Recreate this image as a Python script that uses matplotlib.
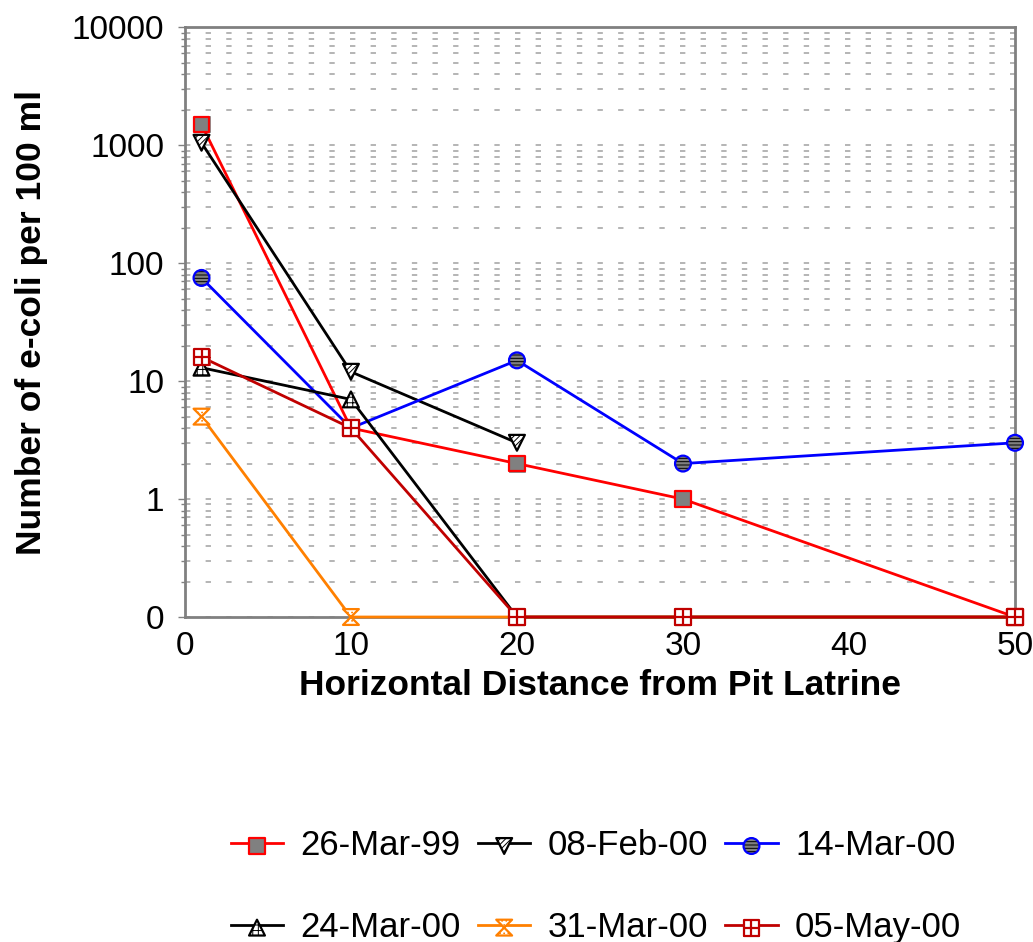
import numpy as np
import matplotlib.pyplot as plt
from matplotlib.path import Path
from matplotlib.ticker import FixedLocator, FixedFormatter, LogLocator, NullFormatter

plt.rcParams['font.family'] = ['Liberation Sans', 'DejaVu Sans']
plt.rcParams['hatch.linewidth'] = 0.7

# distance from pit latrine (m)
dist = [1, 10, 20, 30, 50]

# e-coli counts per 100 ml (None = not sampled)
mar99 = [1500, 4, 2, 1, 0]
feb00 = [1050, 12, 3, None, None]
mar14 = [75, 4, 15, 2, 3]
mar24 = [13, 7, 0, 0, 0]
mar31 = [5, 0, 0, 0, 0]
may05 = [16, 4, 0, 0, 0]

labels = ['26-Mar-99', '08-Feb-00', '14-Mar-00', '24-Mar-00', '31-Mar-00', '05-May-00']
series = [mar99, feb00, mar14, mar24, mar31, may05]

y_ticks = [0.1, 1, 10, 100, 1000, 10000]
y_labels = ['0', '1', '10', '100', '1000', '10000']

hourglass = Path([(-1, 1), (1, 1), (-1, -1), (1, -1), (-1, 1)],
                 [Path.MOVETO, Path.LINETO, Path.LINETO, Path.LINETO, Path.CLOSEPOLY])
# square split in four
crossbox = Path([(-1, -1), (1, -1), (1, 1), (-1, 1), (-1, -1),
                 (0, -1), (0, 1), (-1, 0), (1, 0)],
                [Path.MOVETO, Path.LINETO, Path.LINETO, Path.LINETO, Path.CLOSEPOLY,
                 Path.MOVETO, Path.LINETO, Path.MOVETO, Path.LINETO])

# (line colour, marker, face, hatch colour, hatch, outline colour)
styles = [
    ('#ff0000', 's', '#808080', '#808080', None, '#ff0000'),
    ('#000000', 'v', 'white', '#000000', '/' * 6, '#000000'),
    ('#0000ff', 'o', '#808080', '#000000', '-' * 5, '#0000ff'),
    ('#000000', '^', 'white', '#000000', '+' * 3, '#000000'),
    ('#ff8000', hourglass, 'white', '#ff8000', '.' * 4, '#ff8000'),
    ('#c00000', crossbox, 'white', '#c00000', None, '#c00000'),
]

fig = plt.figure(figsize=(10.33, 9.42), dpi=100)
ax = fig.add_axes([0.179, 0.345, 0.8036, 0.626])

handles = []
for vals, (lc, mk, fc, hc, hatch, oc) in zip(series, styles):
    x = np.array([d for d, v in zip(dist, vals) if v is not None], dtype=float)
    y = np.array([v for v in vals if v is not None], dtype=float)
    y = np.where(y <= 0, 0.1, y)  # zero plotted on the bottom line
    ln, = ax.plot(x, y, color=lc, lw=2, zorder=3, clip_on=False)
    sc1 = ax.scatter(x, y, s=130, marker=mk, facecolor=fc, edgecolor=hc,
                     linewidths=0.5, hatch=hatch, zorder=4, clip_on=False)
    sc2 = ax.scatter(x, y, s=130, marker=mk, facecolor='none', edgecolor=oc,
                     linewidths=1.6, zorder=4, clip_on=False)
    handles.append((ln, sc1, sc2))

ax.set_yscale('log')
ax.set_ylim(0.1, 10000)
ax.set_xlim(0, 50)
ax.yaxis.set_major_locator(FixedLocator(y_ticks))
ax.yaxis.set_major_formatter(FixedFormatter(y_labels))
ax.yaxis.set_minor_locator(LogLocator(base=10, subs=np.arange(2, 10), numticks=20))
ax.yaxis.set_minor_formatter(NullFormatter())
ax.set_xticks([0, 10, 20, 30, 40, 50])

ax.grid(True, axis='y', which='both', color='#a0a0a0', lw=1.1,
        linestyle=(0, (3.5, 10)), zorder=0)
ax.set_axisbelow(True)

for sp in ax.spines.values():
    sp.set_color('#808080')
    sp.set_linewidth(2)

ax.tick_params(axis='y', which='major', length=5, width=1, color='#808080',
               labelsize=24, pad=10)
ax.tick_params(axis='y', which='minor', length=3, width=1, color='#808080')
ax.tick_params(axis='x', length=0, labelsize=24, pad=10)

ax.set_xlabel('Horizontal Distance from Pit Latrine', fontsize=25.5,
              fontweight='bold', labelpad=5)
ax.set_ylabel('Number of e-coli per 100 ml', fontsize=25.5,
              fontweight='bold', labelpad=17)

order = [0, 3, 1, 4, 2, 5]
fig.legend([handles[i] for i in order], [labels[i] for i in order],
           loc='center', bbox_to_anchor=(0.577, 0.059), ncol=3,
           frameon=False, fontsize=25, handlelength=1.5, handletextpad=0.5,
           columnspacing=0.5, labelspacing=1.4)

fig.savefig('out.png', dpi=100)
